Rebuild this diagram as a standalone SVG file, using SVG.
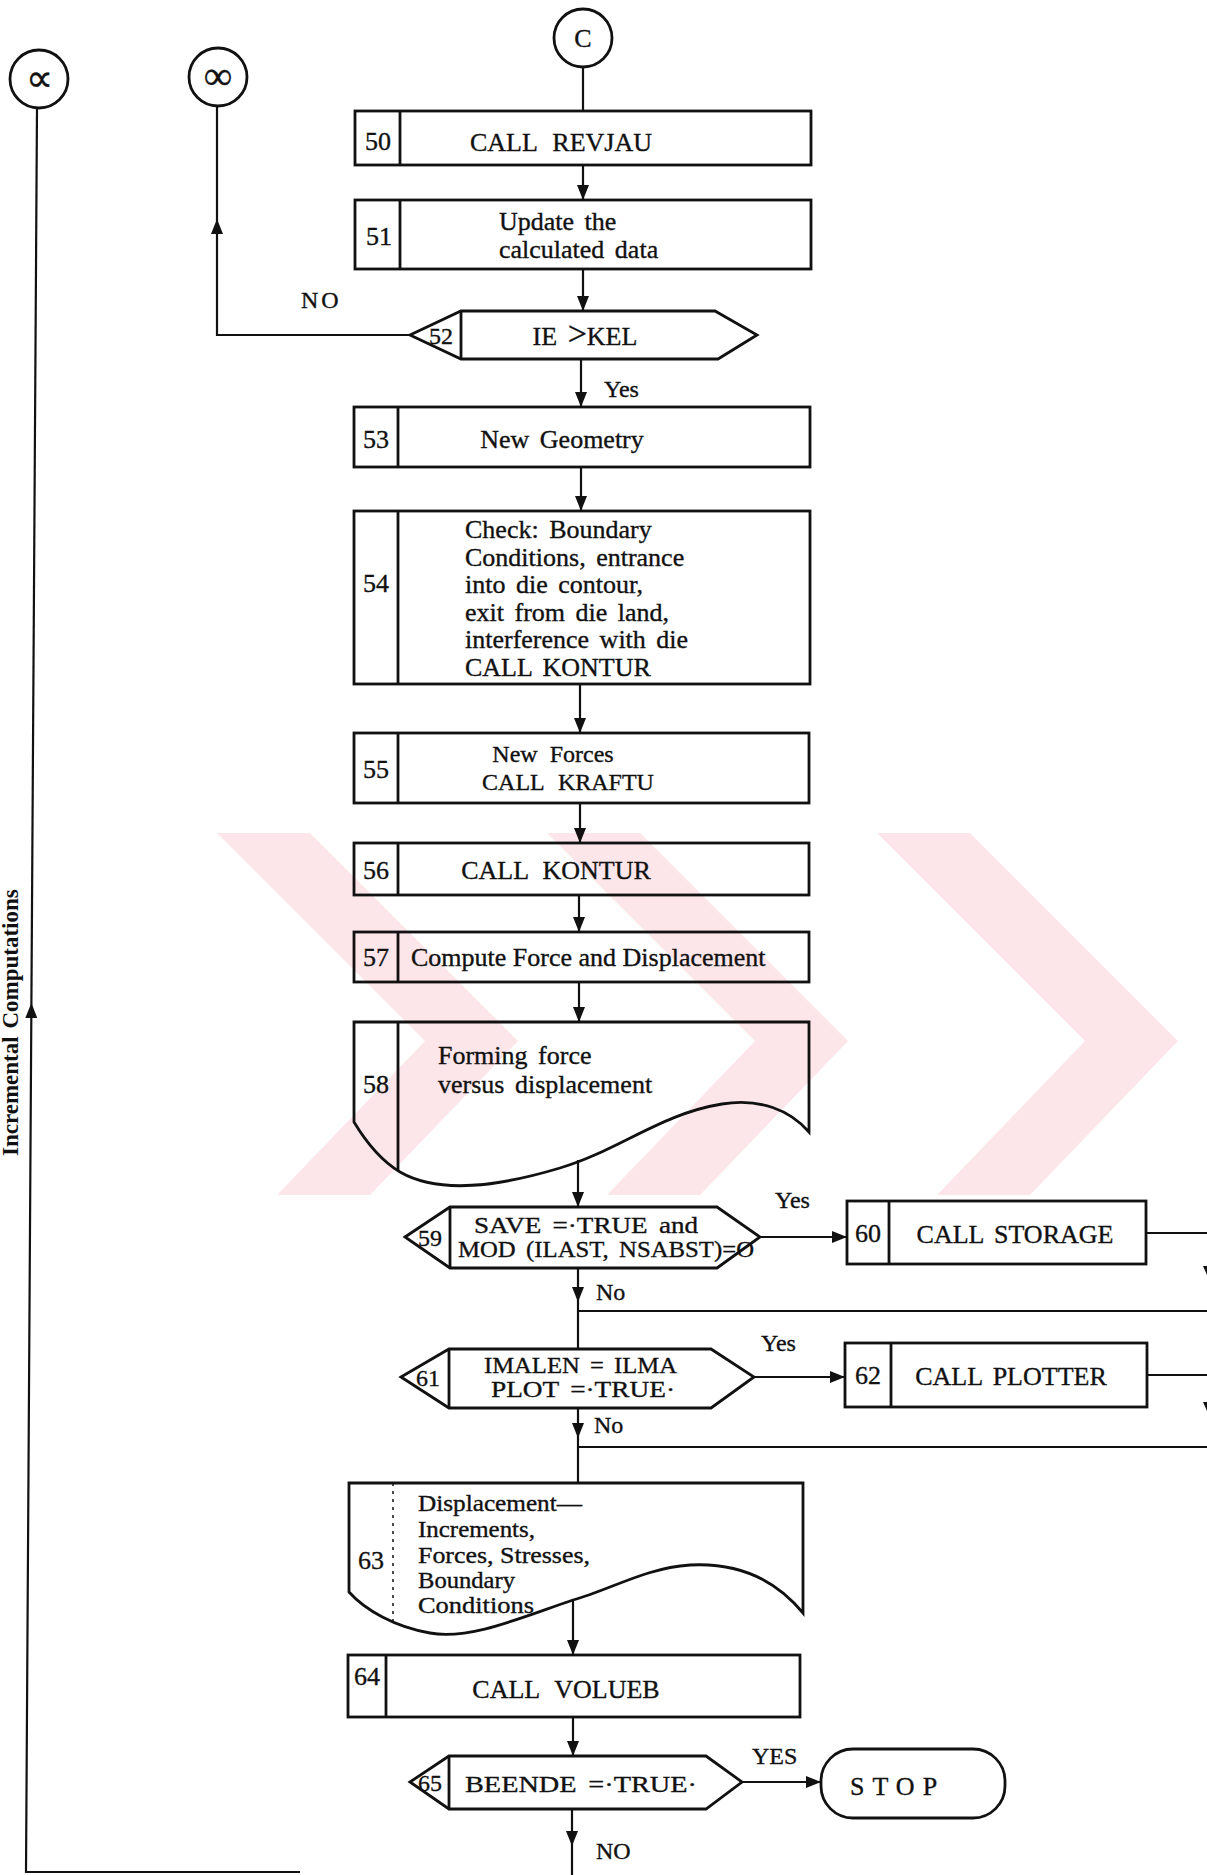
<svg xmlns="http://www.w3.org/2000/svg" width="1207" height="1875" viewBox="0 0 1207 1875">
<defs>
<marker id="ah" markerWidth="15" markerHeight="12" viewBox="0 0 15 12" refX="15" refY="6" orient="auto" markerUnits="userSpaceOnUse">
<path d="M0,0 L15,6 L0,12 Z" fill="#111"/>
</marker>
<style>
.b{fill:none;stroke:#111;stroke-width:2.8}
.l{fill:none;stroke:#111;stroke-width:2.2}
.a{fill:none;stroke:#111;stroke-width:2.2;marker-end:url(#ah)}
.t{font-family:"Liberation Serif",serif;font-size:26px;fill:#111;stroke:#111;stroke-width:0.35;word-spacing:4px}
.s{font-size:24px}
.x{font-size:23px;word-spacing:0}
.m{text-anchor:middle}
.wm{fill:#fde6ea;stroke:none}
</style>
</defs>
<rect width="1207" height="1875" fill="#fff"/>
<g id="watermark">
<polygon class="wm" points="217,833 310,833 518,1041 370,1195 277,1195 425,1041"/>
<polygon class="wm" points="547,833 640,833 848,1041 700,1195 607,1195 755,1041"/>
<polygon class="wm" points="877,833 970,833 1178,1041 1030,1195 937,1195 1085,1041"/>
</g>
<g id="connectors">
<line class="l" x1="583" y1="67" x2="583" y2="111"/>
<line class="a" x1="583" y1="165" x2="583" y2="200"/>
<line class="a" x1="583" y1="269" x2="583" y2="311"/>
<path class="a" d="M410,335 H217 V219"/>
<line class="l" x1="217" y1="219" x2="217" y2="106"/>
<line class="a" x1="581" y1="359" x2="581" y2="407"/>
<line class="a" x1="581" y1="467" x2="581" y2="511"/>
<line class="a" x1="580" y1="684" x2="580" y2="733"/>
<line class="a" x1="580" y1="803" x2="580" y2="843"/>
<line class="a" x1="579" y1="895" x2="579" y2="932"/>
<line class="a" x1="579" y1="982" x2="579" y2="1022"/>
<line class="a" x1="578" y1="1160" x2="578" y2="1207"/>
<line class="a" x1="760" y1="1237" x2="847" y2="1237"/>
<line class="l" x1="1146" y1="1233" x2="1207" y2="1233"/>
<polygon points="1203,1266 1221,1266 1212,1286" fill="#111"/>
<line class="a" x1="578" y1="1268" x2="578" y2="1302"/>
<line class="l" x1="578" y1="1302" x2="578" y2="1349"/>
<line class="l" x1="578" y1="1311" x2="1207" y2="1311"/>
<line class="a" x1="754" y1="1377" x2="845" y2="1377"/>
<line class="l" x1="1147" y1="1375" x2="1207" y2="1375"/>
<polygon points="1203,1402 1221,1402 1212,1422" fill="#111"/>
<line class="a" x1="578" y1="1408" x2="578" y2="1438"/>
<line class="l" x1="578" y1="1438" x2="578" y2="1483"/>
<line class="l" x1="578" y1="1447" x2="1207" y2="1447"/>
<line class="a" x1="573" y1="1600" x2="573" y2="1655"/>
<line class="a" x1="573" y1="1717" x2="573" y2="1756"/>
<line class="a" x1="742" y1="1782" x2="821" y2="1782"/>
<line class="a" x1="572" y1="1809" x2="572" y2="1846"/>
<line class="l" x1="572" y1="1846" x2="572" y2="1875"/>
<path class="a" d="M300,1872 H26 L31.4,1003"/>
<line class="l" x1="31.4" y1="1003" x2="37" y2="108"/>
</g>
<g id="n-alpha"><circle class="b" cx="39" cy="79" r="29"/><text class="t m" x="39" y="91" style="font-size:38px">∝</text></g>
<g id="n-inf"><circle class="b" cx="218" cy="77" r="29"/><text class="t m" x="218" y="89" style="font-size:40px">∞</text></g>
<g id="n-C"><circle class="b" cx="583" cy="38" r="29"/><text class="t m" x="583" y="47">C</text></g>
<g id="n50"><rect class="b" x="355" y="111" width="456" height="54"/><line class="b" x1="400" y1="111" x2="400" y2="165"/><text class="t m" x="378" y="150">50</text><text class="t m" x="561" y="151" style="word-spacing:9px">CALL REVJAU</text></g>
<g id="n51"><rect class="b" x="355" y="200" width="456" height="69"/><line class="b" x1="400" y1="200" x2="400" y2="269"/><text class="t m" x="379" y="245">51</text><text class="t" x="499" y="230">Update the</text><text class="t" x="499" y="258">calculated data</text></g>
<g id="n52"><polygon class="b" points="410,335 461,311 715,311 757,335 718,359 461,359"/><line class="b" x1="461" y1="311" x2="461" y2="359"/><text class="t m s" x="441" y="344">52</text><text class="t m" x="585" y="345">IE <tspan style="font-size:34px">&gt;</tspan>KEL</text></g>
<text class="t s" x="301" y="308" style="letter-spacing:3px">NO</text>
<text class="t s" x="604" y="397">Yes</text>
<g id="n53"><rect class="b" x="354" y="407" width="456" height="60"/><line class="b" x1="398" y1="407" x2="398" y2="467"/><text class="t m" x="376" y="448">53</text><text class="t m" x="562" y="448">New Geometry</text></g>
<g id="n54"><rect class="b" x="354" y="511" width="456" height="173"/><line class="b" x1="398" y1="511" x2="398" y2="684"/><text class="t m" x="376" y="592">54</text>
<text class="t" x="465" y="538">Check: Boundary</text>
<text class="t" x="465" y="566">Conditions, entrance</text>
<text class="t" x="465" y="593">into die contour,</text>
<text class="t" x="465" y="621">exit from die land,</text>
<text class="t" x="465" y="648">interference with die</text>
<text class="t" x="465" y="676">CALL KONTUR</text></g>
<g id="n55"><rect class="b" x="354" y="733" width="455" height="70"/><line class="b" x1="398" y1="733" x2="398" y2="803"/><text class="t m" x="376" y="778">55</text><text class="t m" x="553" y="762" style="font-size:24px;word-spacing:6px">New Forces</text><text class="t m" x="568" y="790" style="font-size:24px;word-spacing:8px">CALL KRAFTU</text></g>
<g id="n56"><rect class="b" x="354" y="843" width="455" height="52"/><line class="b" x1="398" y1="843" x2="398" y2="895"/><text class="t m" x="376" y="879">56</text><text class="t m" x="556" y="879" style="word-spacing:8px">CALL KONTUR</text></g>
<g id="n57"><rect class="b" x="354" y="932" width="455" height="50"/><line class="b" x1="398" y1="932" x2="398" y2="982"/><text class="t m" x="376" y="966">57</text><text class="t" x="411" y="966" style="word-spacing:0">Compute Force and Displacement</text></g>
<g id="n58"><path class="b" d="M354,1022 H809 V1132 C790,1110 760,1098 722,1104 C660,1114 620,1150 560,1168 C500,1186 440,1195 400,1172 C380,1160 366,1142 354,1122 Z"/><line class="b" x1="398" y1="1022" x2="398" y2="1171"/><text class="t m" x="376" y="1093">58</text><text class="t" x="438" y="1064">Forming force</text><text class="t" x="438" y="1093">versus displacement</text></g>
<g id="n59"><polygon class="b" points="405,1237 450,1207 717,1207 760,1237 717,1268 450,1268"/><line class="b" x1="450" y1="1207" x2="450" y2="1268"/><text class="t m s" x="430" y="1246">59</text><text class="t s" x="474" y="1233" textLength="224" lengthAdjust="spacingAndGlyphs">SAVE =·TRUE and</text><text class="t s" x="458" y="1257" textLength="296" lengthAdjust="spacingAndGlyphs">MOD (ILAST, NSABST)=O</text></g>
<text class="t s" x="775" y="1208">Yes</text>
<g id="n60"><rect class="b" x="847" y="1201" width="299" height="63"/><line class="b" x1="889" y1="1201" x2="889" y2="1264"/><text class="t m" x="868" y="1242">60</text><text class="t m" x="1015" y="1243">CALL STORAGE</text></g>
<text class="t s" x="596" y="1300">No</text>
<g id="n61"><polygon class="b" points="401,1377 449,1349 711,1349 754,1377 711,1408 449,1408"/><line class="b" x1="449" y1="1349" x2="449" y2="1408"/><text class="t m s" x="428" y="1386">61</text><text class="t s" x="484" y="1373" textLength="193" lengthAdjust="spacingAndGlyphs">IMALEN = ILMA</text><text class="t s" x="491" y="1397" textLength="184" lengthAdjust="spacingAndGlyphs">PLOT =·TRUE·</text></g>
<text class="t s" x="761" y="1351">Yes</text>
<g id="n62"><rect class="b" x="845" y="1343" width="302" height="64"/><line class="b" x1="891" y1="1343" x2="891" y2="1407"/><text class="t m" x="868" y="1384">62</text><text class="t m" x="1011" y="1385">CALL PLOTTER</text></g>
<text class="t s" x="594" y="1433">No</text>
<g id="n63"><path class="b" d="M349,1483 H803 V1613 C780,1585 745,1562 690,1565 C645,1568 610,1590 573,1600 C520,1618 470,1640 430,1633 C395,1627 365,1610 349,1592 Z"/><line x1="393" y1="1483" x2="393" y2="1624" stroke="#111" stroke-width="1.5" stroke-dasharray="3,5"/><text class="t m" x="371" y="1569">63</text>
<text class="t x" x="418" y="1511" textLength="164" lengthAdjust="spacingAndGlyphs">Displacement—</text>
<text class="t x" x="418" y="1537" textLength="117" lengthAdjust="spacingAndGlyphs">Increments,</text>
<text class="t x" x="418" y="1563" textLength="172" lengthAdjust="spacingAndGlyphs">Forces, Stresses,</text>
<text class="t x" x="418" y="1588" textLength="97" lengthAdjust="spacingAndGlyphs">Boundary</text>
<text class="t x" x="418" y="1613" textLength="116" lengthAdjust="spacingAndGlyphs">Conditions</text></g>
<g id="n64"><rect class="b" x="348" y="1655" width="452" height="62"/><line class="b" x1="386" y1="1655" x2="386" y2="1717"/><text class="t m" x="367" y="1685">64</text><text class="t m" x="566" y="1698" style="word-spacing:9px">CALL VOLUEB</text></g>
<g id="n65"><polygon class="b" points="410,1782 449,1756 706,1756 742,1782 706,1809 449,1809"/><line class="b" x1="449" y1="1756" x2="449" y2="1809"/><text class="t m s" x="430" y="1791">65</text><text class="t s" x="465" y="1792" textLength="232" lengthAdjust="spacingAndGlyphs">BEENDE =·TRUE·</text></g>
<text class="t s" x="752" y="1764">YES</text>
<g id="n-stop"><rect class="b" x="821" y="1749" width="184" height="69" rx="32"/><text class="t" x="850" y="1795" style="letter-spacing:8px">STOP</text></g>
<text class="t s" x="596" y="1859">NO</text>
<text class="t" transform="translate(18,1156) rotate(-90)" style="font-weight:bold;font-size:23px;word-spacing:2px;stroke-width:0">Incremental Computations</text>
</svg>
